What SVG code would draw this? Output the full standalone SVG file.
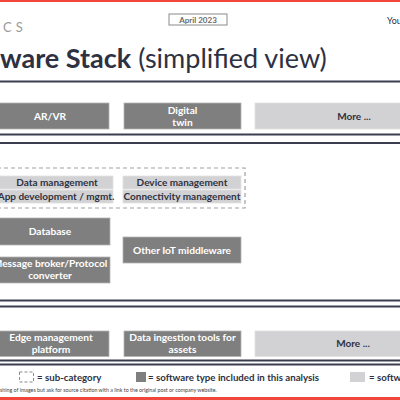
<svg xmlns="http://www.w3.org/2000/svg" width="400" height="400" viewBox="0 0 400 400">
<style>
.dk{fill:#7f7f7f;stroke:#b4b4b4;stroke-width:0.8}
.lt{fill:#d2d2d4;stroke:#e0e0e0;stroke-width:0.8}
.wt{font-family:Lato,"Open Sans",sans-serif;font-weight:bold;font-size:10.2px;fill:#ffffff;text-anchor:middle}
.bt{font-family:Lato,"Open Sans",sans-serif;font-weight:bold;font-size:10px;fill:#2e3142;text-anchor:middle}
.sep{stroke:#3b3e50;stroke-width:2;fill:none}
.lg{font-family:Lato,"Open Sans",sans-serif;font-weight:bold;font-size:9.7px;fill:#2e3142}
</style>
<rect x="0" y="0" width="400" height="400" fill="#ffffff"/>
<rect x="0" y="0" width="400" height="2" fill="#f0463c"/>
<rect x="0" y="397" width="400" height="3" fill="#f0463c"/>
<text x="3" y="32" font-family="Lato,sans-serif" font-size="13" fill="#9a9a9a" letter-spacing="4">CS</text>
<g id="date">
<rect x="169" y="14" width="58" height="11" fill="#ffffff" stroke="#8a8a8a" stroke-width="1"/>
<text x="198" y="22.5" font-family="Lato,sans-serif" font-weight="bold" font-size="8" fill="#6a6a6a" text-anchor="middle">April 2023</text>
</g>
<text x="387" y="24" font-family="Lato,sans-serif" font-size="9" fill="#2e3142">You</text>
<text x="0" y="68" font-family="Lato,sans-serif" font-size="27" fill="#2e3142"><tspan font-weight="bold">ware Stack</tspan> (simplified view)</text>
<line x1="0" y1="81.5" x2="400" y2="81.5" class="sep" stroke-width="2.5"/>

<g id="connectors">
<line x1="0" y1="134.6" x2="400" y2="134.6" class="sep"/>
<line x1="0" y1="143" x2="400" y2="143" class="sep"/>
<line x1="0" y1="300.5" x2="400" y2="300.5" class="sep"/>
<line x1="0" y1="306.5" x2="400" y2="306.5" class="sep"/>
<line x1="0" y1="360.5" x2="400" y2="360.5" class="sep"/>
<line x1="0" y1="364.5" x2="400" y2="364.5" class="sep"/>
</g>

<g id="arvr"><rect x="-10" y="103" width="119" height="26" class="dk"/><text x="50" y="119.5" class="wt">AR/VR</text></g>
<g id="digital-twin"><rect x="124" y="103" width="117" height="26" class="dk"/><text x="182.5" y="113.5" class="wt">Digital</text><text x="182.5" y="125.5" class="wt">twin</text></g>
<g id="more-top"><rect x="255" y="103" width="155" height="26" class="lt"/><text x="354" y="119.5" class="bt">More ...</text></g>

<g id="subcategory"><rect x="-10" y="168" width="255" height="40" fill="none" stroke="#a0a0a0" stroke-width="1.2" stroke-dasharray="4 3"/></g>
<g id="data-mgmt"><rect x="-10" y="176" width="123" height="13" class="lt"/><text x="57" y="186" class="bt">Data management</text></g>
<g id="app-dev"><rect x="-10" y="190" width="123" height="13" class="lt"/><text x="56" y="200" class="bt">App development / mgmt.</text></g>
<g id="device-mgmt"><rect x="123" y="176" width="118" height="13" class="lt"/><text x="182" y="186" class="bt">Device management</text></g>
<g id="conn-mgmt"><rect x="123" y="190" width="118" height="13" class="lt"/><text x="182" y="200" class="bt">Connectivity management</text></g>

<g id="database"><rect x="-10" y="218" width="120" height="27" class="dk"/><text x="50" y="235" class="wt">Database</text></g>
<g id="broker"><rect x="-10" y="257" width="120" height="26" class="dk"/><text x="50" y="266.5" class="wt">Message broker/Protocol</text><text x="50" y="279" class="wt">converter</text></g>
<g id="other-iot"><rect x="123" y="237" width="118" height="26" class="dk"/><text x="182" y="253.5" class="wt">Other IoT middleware</text></g>

<g id="edge-mgmt"><rect x="-10" y="331" width="119" height="25.5" class="dk"/><text x="51" y="340.5" class="wt">Edge management</text><text x="51" y="353" class="wt">platform</text></g>
<g id="data-ingestion"><rect x="124" y="331" width="117" height="25.5" class="dk"/><text x="182.5" y="340.5" class="wt">Data ingestion tools for</text><text x="182.5" y="353" class="wt">assets</text></g>
<g id="more-bottom"><rect x="255" y="331" width="155" height="25.5" class="lt"/><text x="353" y="347" class="bt">More ...</text></g>

<g id="legend">
<rect x="19.5" y="372" width="14" height="10" fill="none" stroke="#8a8a8a" stroke-width="1" stroke-dasharray="3 2"/>
<text x="37" y="381" class="lg">= sub-category</text>
<rect x="136" y="372" width="10" height="10" fill="#7f7f7f"/>
<text x="148" y="381" class="lg">= software type included in this analysis</text>
<rect x="350" y="372" width="15" height="10" fill="#d2d2d4"/>
<text x="369" y="381" class="lg">= software</text>
</g>
<text x="0" y="392" font-family="Lato,sans-serif" font-size="5.3" fill="#444">shing of images but ask for source citation with a link to the original post or company website.</text>
</svg>
